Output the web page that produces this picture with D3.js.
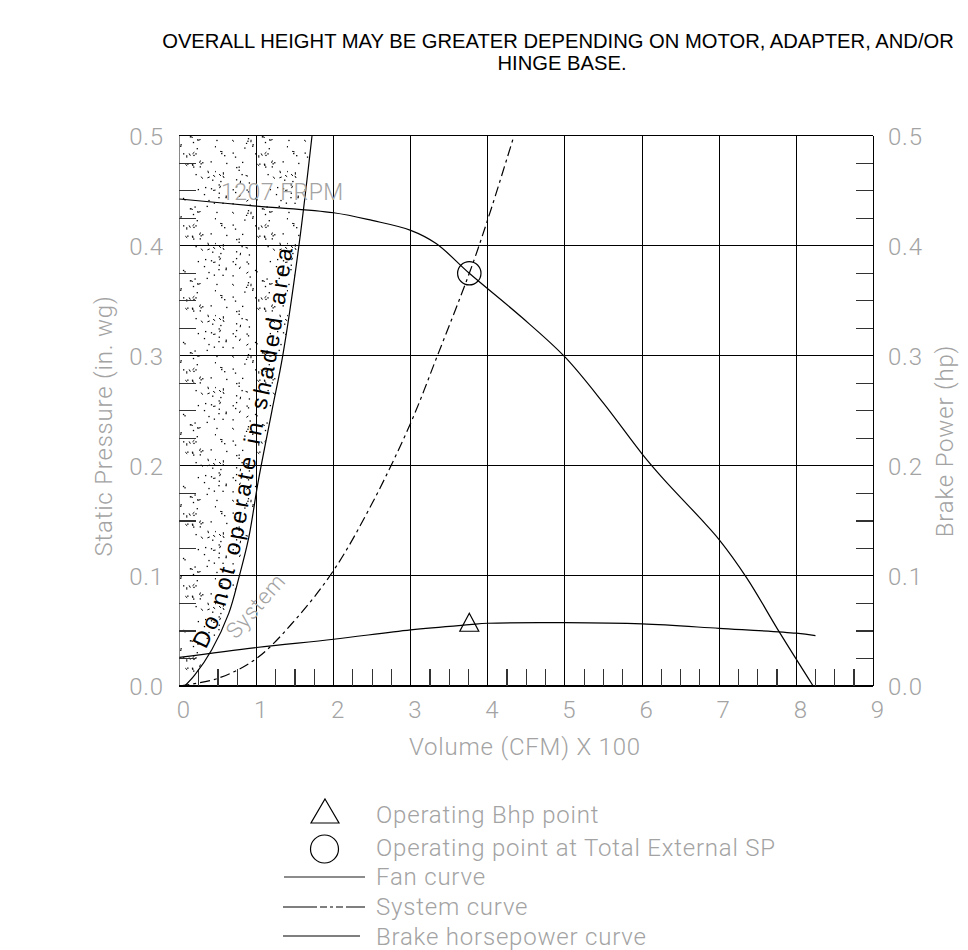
<!DOCTYPE html>
<html lang="en">
<head>
<meta charset="UTF-8">
<title>Fan performance curve</title>
<style>
  body { margin: 0; background: #fff; }
  svg { display: block; }
  .cad { font-family: Roboto, "DejaVu Sans", sans-serif; font-weight: 300; font-size: 24px; fill: #a3a3a3; letter-spacing: 0.8px; }
  .title { font-family: "Liberation Sans", Arial, sans-serif; font-size: 20.2px; fill: #000; }
</style>
</head>
<body>
<div id="chart"></div>
<script src="https://cdnjs.cloudflare.com/ajax/libs/d3/7.8.5/d3.min.js"></script>
<script>
// axis ticks
var volumeTicks = [0, 1, 2, 3, 4, 5, 6, 7, 8, 9];
var pressureTicks = [0.0, 0.1, 0.2, 0.3, 0.4, 0.5];
var powerTicks = [0.0, 0.1, 0.2, 0.3, 0.4, 0.5];

// fan curve (static pressure vs volume x100)
var fanVolume = [0, 1, 2, 2.5, 3, 3.33, 3.76, 4.44, 5.0, 5.5, 6.0, 6.28, 6.76, 7.0, 7.36, 7.79, 8.22];
var fanPressure = [0.4425, 0.436, 0.430, 0.423, 0.414, 0.402, 0.375, 0.335, 0.299, 0.257, 0.211, 0.188, 0.152, 0.133, 0.098, 0.048, 0.0];

// system curve
var systemVolume = [0, 0.5, 1, 1.5, 2, 2.5, 3, 3.34, 3.76, 4, 4.34];
var systemPressure = [0, 0.007, 0.025, 0.06, 0.105, 0.166, 0.239, 0.299, 0.375, 0.424, 0.5];

// brake horsepower curve (right axis)
var bhpVolume = [0, 1, 2, 3, 3.76, 4, 5, 6, 7, 8, 8.25];
var bhpPower = [0.026, 0.035, 0.0425, 0.051, 0.0557, 0.057, 0.0575, 0.0564, 0.0524, 0.048, 0.0457];

// limit of the "do not operate" zone
var limitVolume = [0.07, 0.2, 0.42, 0.64, 0.77, 0.9, 1.02, 1.2, 1.34, 1.55, 1.72];
var limitPressure = [0, 0.01, 0.033, 0.066, 0.098, 0.135, 0.185, 0.25, 0.3, 0.4, 0.5];

// operating points
var operatingVolume = 3.76;
var operatingPressure = 0.375;
var operatingPower = 0.057;

var rpmLabel = "1207 FRPM";
var warnText = "Do not operate in shaded area";
var titleLines = ["OVERALL HEIGHT MAY BE GREATER DEPENDING ON MOTOR, ADAPTER, AND/OR", "HINGE BASE."];
var legendItems = ["Operating Bhp point", "Operating point at Total External SP", "Fan curve", "System curve", "Brake horsepower curve"];

var width = 968, height = 950;

var svg = d3.select("#chart").append("svg")
    .attr("width", width)
    .attr("height", height);

var x = d3.scaleLinear().domain([0, 9]).range([179.4, 873.3]);
var y = d3.scaleLinear().domain([0, 0.5]).range([686, 135.7]);
var yRight = d3.scaleLinear().domain([0, 0.5]).range([686, 135.7]);

function zip(a, b) { return a.map(function(v, i) { return { v: v, p: b[i] }; }); }

// stipple texture for the shaded zone
var seed = 4711;
function rand() { seed = (seed * 16807) % 2147483647; return (seed - 1) / 2147483646; }
var pat = svg.append("defs").append("pattern")
    .attr("id", "stipple")
    .attr("patternUnits", "userSpaceOnUse")
    .attr("width", 72).attr("height", 72);
for (var k = 0; k < 85; k++) {
    var px = rand() * 72, py = rand() * 72;
    if (rand() < 0.25) {
        var a = rand() * Math.PI;
        pat.append("line")
            .attr("x1", px).attr("y1", py)
            .attr("x2", px + Math.cos(a) * 2.5).attr("y2", py + Math.sin(a) * 2.5)
            .attr("stroke", "#000").attr("stroke-width", 1);
    } else {
        pat.append("rect").attr("x", px).attr("y", py)
            .attr("width", 1.3).attr("height", 1.3).attr("fill", "#000");
    }
}

// title
svg.selectAll(".title").data(titleLines).enter().append("text")
    .attr("class", "title")
    .attr("x", function(d, i) { return 558 + i * 4; })
    .attr("y", function(d, i) { return 48 + i * 22; })
    .attr("text-anchor", "middle")
    .text(function(d) { return d; });

// shaded zone
var limit = zip(limitVolume, limitPressure);
var zone = [{ v: 0, p: 0 }].concat(limit);
var smooth = d3.curveCatmullRom.alpha(0.5);
svg.append("path")
    .datum(zone)
    .attr("fill", "url(#stipple)")
    .attr("d", d3.area()
        .x(function(d) { return x(d.v); })
        .y0(function(d) { return y(d.p); })
        .y1(y(0.5))
        .curve(smooth));

// grid
var grid = svg.append("g").attr("stroke", "#000").attr("stroke-width", 1).attr("shape-rendering", "crispEdges");
grid.selectAll(".vg").data(volumeTicks.slice(1, -1)).enter().append("line")
    .attr("x1", function(d) { return x(d); }).attr("x2", function(d) { return x(d); })
    .attr("y1", y(0)).attr("y2", y(0.5));
grid.selectAll(".hg").data(pressureTicks.slice(1, -1)).enter().append("line")
    .attr("x1", x(0)).attr("x2", x(9))
    .attr("y1", function(d) { return y(d); }).attr("y2", function(d) { return y(d); });

// frame
grid.append("line").attr("x1", x(0)).attr("x2", x(9)).attr("y1", y(0.5)).attr("y2", y(0.5));
grid.append("line").attr("x1", x(9)).attr("x2", x(9)).attr("y1", y(0)).attr("y2", y(0.5));
grid.append("line").attr("x1", x(0)).attr("x2", x(0)).attr("y1", y(0)).attr("y2", y(0.5)).attr("stroke", "#888");
grid.append("line").attr("x1", x(0)).attr("x2", x(9)).attr("y1", y(0)).attr("y2", y(0)).attr("stroke-width", 1.6);

// minor ticks
var minorP = d3.range(0.025, 0.5, 0.025).filter(function(d) { return Math.abs(d * 10 - Math.round(d * 10)) > 0.01; });
var minorV = d3.range(0.25, 9, 0.25).filter(function(d) { return Math.abs(d - Math.round(d)) > 0.01; });
var ticks = svg.append("g").attr("stroke", "#333").attr("stroke-width", 1.2).attr("shape-rendering", "crispEdges");
ticks.selectAll(".lt").data(minorP).enter().append("line")
    .attr("x1", x(0)).attr("x2", x(0) + 17)
    .attr("y1", function(d) { return y(d); }).attr("y2", function(d) { return y(d); });
ticks.selectAll(".rt").data(minorP).enter().append("line")
    .attr("x1", x(9) - 17).attr("x2", x(9))
    .attr("y1", function(d) { return yRight(d); }).attr("y2", function(d) { return yRight(d); });
ticks.selectAll(".bt").data(minorV).enter().append("line")
    .attr("x1", function(d) { return x(d); }).attr("x2", function(d) { return x(d); })
    .attr("y1", y(0)).attr("y2", y(0) - 17);

// tick labels
svg.selectAll(".yl").data(pressureTicks).enter().append("text")
    .attr("class", "cad").attr("text-anchor", "end")
    .attr("x", 164).attr("y", function(d) { return y(d) + 9; })
    .text(function(d) { return d3.format(".1f")(d); });
svg.selectAll(".yr").data(powerTicks).enter().append("text")
    .attr("class", "cad")
    .attr("x", 888).attr("y", function(d) { return yRight(d) + 9; })
    .text(function(d) { return d3.format(".1f")(d); });
svg.selectAll(".xl").data(volumeTicks).enter().append("text")
    .attr("class", "cad").attr("text-anchor", "middle")
    .attr("x", function(d) { return x(d) + 4.5; }).attr("y", 718)
    .text(function(d) { return d; });

// axis titles
svg.append("text").attr("class", "cad").attr("text-anchor", "middle")
    .attr("transform", "rotate(-90)").attr("x", -426).attr("y", 112)
    .text("Static Pressure (in. wg)");
svg.append("text").attr("class", "cad").attr("text-anchor", "middle")
    .attr("transform", "rotate(-90)").attr("x", -441).attr("y", 953)
    .text("Brake Power (hp)");
svg.append("text").attr("class", "cad").attr("text-anchor", "middle")
    .attr("x", 525).attr("y", 755)
    .text("Volume (CFM) X 100");

// curves
var line = d3.line()
    .x(function(d) { return x(d.v); })
    .y(function(d) { return y(d.p); })
    .curve(smooth);

svg.append("path").datum(limit)
    .attr("fill", "none").attr("stroke", "#000").attr("stroke-width", 1.2)
    .attr("d", line);

svg.append("path").datum(zip(fanVolume, fanPressure))
    .attr("fill", "none").attr("stroke", "#000").attr("stroke-width", 1.2)
    .attr("d", line);

svg.append("path").datum(zip(systemVolume, systemPressure))
    .attr("fill", "none").attr("stroke", "#000").attr("stroke-width", 1.2)
    .attr("stroke-dasharray", "10,4,3,4")
    .attr("d", line);

svg.append("path").datum(zip(bhpVolume, bhpPower))
    .attr("fill", "none").attr("stroke", "#000").attr("stroke-width", 1.2)
    .attr("d", d3.line()
        .x(function(d) { return x(d.v); })
        .y(function(d) { return yRight(d.p); })
        .curve(smooth));

// labels inside the plot
svg.append("text").attr("class", "cad").style("font-size", "23px").style("letter-spacing", "0.5px")
    .attr("x", 221).attr("y", 200).text(rpmLabel);
svg.append("text").attr("class", "cad").style("font-size", "22px")
    .attr("transform", "translate(236,640) rotate(-49)")
    .text("System");

// warning text following the limit curve
var warnPts = limit.filter(function(d) { return d.p >= 0.03 && d.p <= 0.4; });
var warnPath = svg.append("path").datum(warnPts)
    .attr("id", "warnPath").attr("fill", "none")
    .attr("d", d3.line()
        .x(function(d) { return x(d.v) - 6; })
        .y(function(d) { return y(d.p); })
        .curve(smooth));
var warn = svg.append("text")
    .attr("font-family", "'Liberation Sans', Arial, sans-serif")
    .attr("font-size", 23)
    .attr("fill", "#000");
warn.append("textPath").attr("href", "#warnPath").text(warnText);
var natural = warn.node().getComputedTextLength();
var total = warnPath.node().getTotalLength();
var ls = (total - natural) / warnText.length;
if (!isFinite(ls) || ls < 0) ls = 2;
warn.attr("letter-spacing", ls);

// operating point markers
function triangle(cx, cy, w, up, down) {
    return "M" + cx + "," + (cy - up) + "L" + (cx + w / 2) + "," + (cy + down) + "L" + (cx - w / 2) + "," + (cy + down) + "Z";
}
svg.append("circle")
    .attr("cx", x(operatingVolume)).attr("cy", y(operatingPressure)).attr("r", 11.7)
    .attr("fill", "none").attr("stroke", "#000").attr("stroke-width", 1.2);
svg.append("path")
    .attr("d", triangle(x(operatingVolume), yRight(operatingPower), 19, 10, 8))
    .attr("fill", "none").attr("stroke", "#000").attr("stroke-width", 1.2);

// legend
var legendY = [823, 856, 885, 915, 945];
var legend = svg.append("g");
legend.append("path").attr("d", triangle(325, 812, 28, 13, 11))
    .attr("fill", "none").attr("stroke", "#000").attr("stroke-width", 1.2);
legend.append("circle").attr("cx", 324.5).attr("cy", 849).attr("r", 14)
    .attr("fill", "none").attr("stroke", "#000").attr("stroke-width", 1.2);
legend.append("line").attr("x1", 284).attr("x2", 365).attr("y1", 877).attr("y2", 877)
    .attr("stroke", "#666").attr("stroke-width", 1.4);
legend.append("line").attr("x1", 283).attr("x2", 365).attr("y1", 907).attr("y2", 907)
    .attr("stroke", "#000").attr("stroke-width", 1.2).attr("stroke-dasharray", "34,3,7,3,3,3,7,3,30");
legend.append("line").attr("x1", 283).attr("x2", 360).attr("y1", 936).attr("y2", 936)
    .attr("stroke", "#000").attr("stroke-width", 1.2);
legend.selectAll(".lt").data(legendItems).enter().append("text")
    .attr("class", "cad").attr("x", 376)
    .attr("y", function(d, i) { return legendY[i]; })
    .text(function(d) { return d; });
</script>
</body>
</html>
